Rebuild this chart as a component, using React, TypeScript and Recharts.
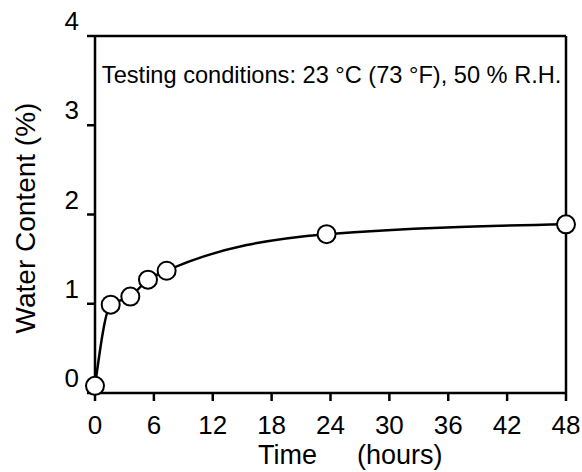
import React from "react";
import {
  Label,
  Line,
  LineChart,
  ReferenceDot,
  ReferenceLine,
  XAxis,
  YAxis
} from "recharts";

const hours = [0, 1.6, 3.6, 5.4, 7.3, 23.6, 48];
const waterContent = [0.08, 0.99, 1.08, 1.27, 1.37, 1.78, 1.89];
const xTicks = [0, 6, 12, 18, 24, 30, 36, 42, 48];
const yTicks = [0, 1, 2, 3, 4];
const note = "Testing conditions: 23 °C (73 °F), 50 % R.H.";
const notePos = { x: 0.7, y: 3.56 };

const font = "'Liberation Sans', Arial, Helvetica, sans-serif";
const ink = "#000";

const data = hours.map((h, i) => ({ hours: h, water: waterContent[i] }));

const YTick = ({ x, y, payload }: any): React.ReactElement => (
  <text x={x} y={y - 6} textAnchor="end" fontSize={26} fontFamily={font} fill={ink}>
    {payload.value}
  </text>
);

const XTitle = ({ viewBox }: any): React.ReactElement => {
  const base = viewBox.y + viewBox.height - 8;
  return (
    <g fontFamily={font} fontSize={27} fill={ink}>
      <text x={viewBox.x + 163} y={base}>Time</text>
      <text x={viewBox.x + 262} y={base}>(hours)</text>
    </g>
  );
};

const YTitle = ({ viewBox }: any): React.ReactElement => {
  const cx = viewBox.x + 25;
  const cy = 218;
  return (
    <text
      x={cx}
      y={cy}
      transform={`rotate(-90 ${cx} ${cy})`}
      textAnchor="middle"
      dominantBaseline="central"
      fontFamily={font}
      fontSize={28}
      fill={ink}
    >
      Water Content (%)
    </text>
  );
};

const NoteText = ({ viewBox }: any): React.ReactElement => (
  <text
    x={viewBox.x}
    y={viewBox.y}
    dominantBaseline="central"
    fontFamily={font}
    fontSize={23.6}
    fill={ink}
  >
    {note}
  </text>
);

export default function App(): React.ReactElement {
  return (
    <div style={{ position: "absolute", left: 0, top: 0, background: "#fff" }}>
      <LineChart
        data={data}
        height={472}
        margin={{ top: 36, right: 16, bottom: 0, left: 0 }}
        width={582}
      >
        <XAxis
          axisLine={{ stroke: ink, strokeWidth: 2.5 }}
          dataKey="hours"
          domain={[0, 48]}
          height={79}
          tick={{ fontSize: 26, fill: ink, fontFamily: font }}
          tickLine={{ stroke: ink, strokeWidth: 2.5 }}
          tickMargin={15}
          tickSize={8}
          ticks={xTicks}
          type="number"
        >
          <Label content={<XTitle />} />
        </XAxis>
        <YAxis
          axisLine={{ stroke: ink, strokeWidth: 2.5 }}
          domain={[0, 4]}
          tick={<YTick />}
          tickLine={{ stroke: ink, strokeWidth: 2.5 }}
          tickMargin={8}
          tickSize={8}
          ticks={yTicks}
          type="number"
          width={95}
        >
          <Label content={<YTitle />} />
        </YAxis>
        <ReferenceLine stroke={ink} strokeWidth={2.5} y={4} />
        <ReferenceLine stroke={ink} strokeWidth={2.5} x={48} />
        <ReferenceDot r={0} stroke="none" x={notePos.x} y={notePos.y}>
          <Label content={<NoteText />} />
        </ReferenceDot>
        <Line
          activeDot={false}
          dataKey="water"
          dot={{ r: 9, fill: "#fff", stroke: ink, strokeWidth: 2 }}
          isAnimationActive={false}
          stroke={ink}
          strokeWidth={2.5}
          type="monotone"
        />
      </LineChart>
    </div>
  );
}
